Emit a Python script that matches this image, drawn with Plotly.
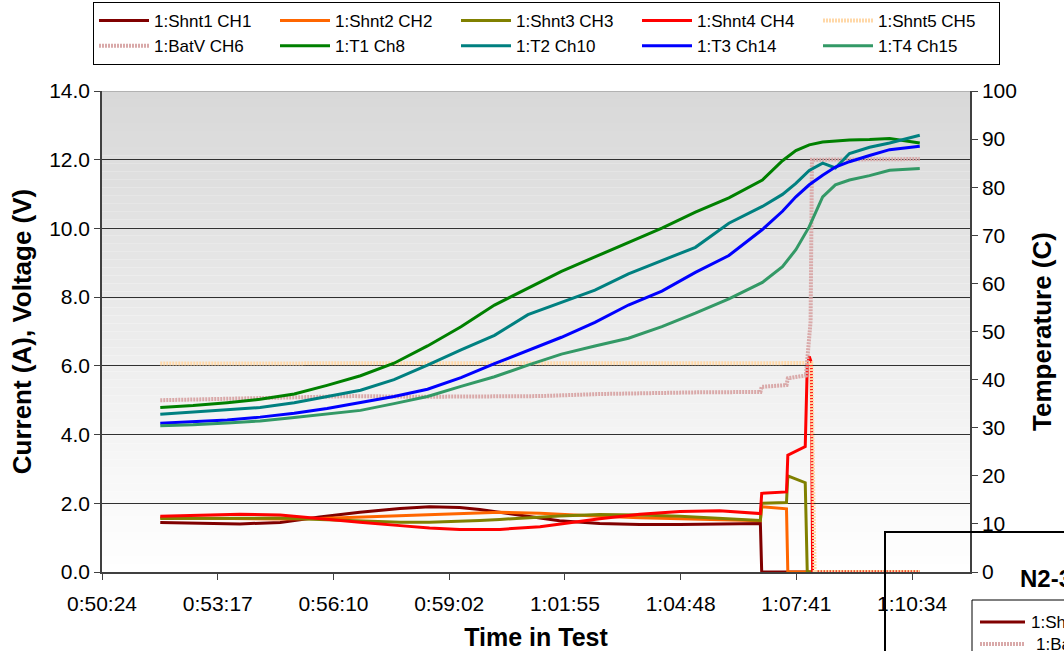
import plotly.graph_objects as go

# x axis: seconds of test clock, labelled h:mm:ss
TICK_SECONDS = [3024, 3196.8, 3369.6, 3542.4, 3715.2, 3888, 4060.8, 4233.6]
TICK_LABELS = ["0:50:24", "0:53:17", "0:56:10", "0:59:02", "1:01:55", "1:04:48", "1:07:41", "1:10:34"]

# shunt currents (A), common part before the faults
CUR_T = [3111, 3170, 3230, 3290, 3349, 3409, 3469, 3513, 3558, 3588, 3618, 3678, 3707, 3767, 3827, 3887, 3946, 3976, 4007]
SHNT1 = [1.44, 1.41, 1.40, 1.44, 1.60, 1.74, 1.85, 1.90, 1.88, 1.82, 1.74, 1.57, 1.49, 1.41, 1.38, 1.38, 1.40, 1.40, 1.41]
SHNT2 = [1.58, 1.57, 1.55, 1.54, 1.56, 1.60, 1.65, 1.69, 1.72, 1.73, 1.74, 1.71, 1.68, 1.62, 1.58, 1.55, 1.52, 1.50, 1.49]
SHNT3 = [1.56, 1.56, 1.57, 1.57, 1.53, 1.49, 1.45, 1.45, 1.47, 1.50, 1.53, 1.60, 1.63, 1.67, 1.66, 1.62, 1.57, 1.54, 1.50]
SHNT4 = [1.62, 1.65, 1.68, 1.66, 1.55, 1.45, 1.35, 1.28, 1.24, 1.23, 1.24, 1.32, 1.40, 1.55, 1.68, 1.76, 1.78, 1.75, 1.70]

# what happens after the first shunt opens
SHNT1_END_T = [4009, 4245]
SHNT1_END = [0, 0]
SHNT2_END_T = [4009, 4046, 4048, 4245]
SHNT2_END = [1.90, 1.84, 0, 0]
SHNT3_END_T = [4009, 4046, 4048, 4074, 4077, 4245]
SHNT3_END = [2.00, 2.02, 2.80, 2.60, 0, 0]
SHNT4_END_T = [4009, 4046, 4048, 4074, 4077, 4080, 4083, 4085, 4245]
SHNT4_END = [2.29, 2.33, 3.40, 3.65, 6.00, 6.27, 6.10, 0, 0]

SHNT5_T = [3111, 3400, 3700, 3950, 4010, 4083, 4088, 4245]
SHNT5 = [6.07, 6.08, 6.07, 6.09, 6.10, 6.08, 0, 0]

BATV_T = [3111, 3170, 3270, 3399, 3499, 3618, 3678, 3767, 3857, 3916, 4007, 4009, 4046, 4048, 4075, 4082, 4084, 4245]
BATV = [5.00, 5.03, 5.08, 5.12, 5.10, 5.10, 5.12, 5.18, 5.22, 5.23, 5.24, 5.39, 5.44, 5.64, 5.72, 7.30, 12.00, 12.02]

# temperatures (C)
TEMP_T = [3111, 3160, 3211, 3260, 3311, 3360, 3410, 3460, 3510, 3560, 3610, 3660, 3710, 3760,
          3810, 3860, 3910, 3960, 4010, 4040, 4060, 4080, 4100, 4119, 4140, 4170, 4200, 4245]
T1 = [34.2, 34.6, 35.2, 35.9, 37.0, 38.8, 40.8, 43.4, 47.0, 51.0, 55.5, 59.0, 62.5, 65.5,
      68.5, 71.5, 74.8, 77.8, 81.5, 85.5, 87.6, 88.8, 89.4, 89.6, 89.8, 89.9, 90.1, 89.2]
T2 = [32.8, 33.3, 33.8, 34.2, 35.2, 36.5, 37.8, 40.0, 43.0, 46.2, 49.2, 53.5, 56.0, 58.6,
      62.0, 64.8, 67.5, 72.5, 76.0, 78.5, 80.8, 83.5, 85.0, 84.0, 87.0, 88.3, 89.2, 90.8]
T3 = [30.9, 31.2, 31.6, 32.2, 33.0, 34.0, 35.2, 36.5, 38.0, 40.4, 43.3, 46.1, 48.8, 51.9,
      55.5, 58.4, 62.3, 65.8, 71.2, 75.0, 78.0, 80.5, 82.5, 84.2, 85.3, 86.6, 87.8, 88.5]
T4 = [30.4, 30.6, 31.0, 31.4, 32.1, 32.8, 33.6, 35.0, 36.5, 38.6, 40.6, 43.0, 45.3, 47.0,
      48.6, 51.0, 53.8, 56.8, 60.2, 63.5, 67.0, 71.8, 78.0, 80.5, 81.5, 82.4, 83.5, 83.9]

FONT = "Liberation Sans, Arial, sans-serif"
AXIS_COL = "#404040"

fig = go.Figure()


def add_line(name, t, v, color, axis="y", dash="solid", width=3):
    fig.add_trace(go.Scatter(
        x=t, y=v, name=name, mode="lines", yaxis=axis,
        line=dict(color=color, width=width, dash=dash),
    ))


add_line("1:Shnt1 CH1", CUR_T + SHNT1_END_T, SHNT1 + SHNT1_END, "#800000")
add_line("1:Shnt2 CH2", CUR_T + SHNT2_END_T, SHNT2 + SHNT2_END, "#FF6600")
add_line("1:Shnt3 CH3", CUR_T + SHNT3_END_T, SHNT3 + SHNT3_END, "#808000")
add_line("1:Shnt4 CH4", CUR_T + SHNT4_END_T, SHNT4 + SHNT4_END, "#FF0000")
add_line("1:Shnt5 CH5", SHNT5_T, SHNT5, "#FFD8A8", dash="2px,1px", width=4)
add_line("1:BatV CH6", BATV_T, BATV, "#D9A9A9", dash="2px,1px", width=4)
add_line("1:T1 Ch8", TEMP_T, T1, "#008000", axis="y2")
add_line("1:T2 Ch10", TEMP_T, T2, "#008080", axis="y2")
add_line("1:T3 Ch14", TEMP_T, T3, "#0000FF", axis="y2")
add_line("1:T4 Ch15", TEMP_T, T4, "#339966", axis="y2")

# grey-to-white gradient behind the plot
shapes = []
n_bands = 60
for i in range(n_bands):
    g = round(216 + 39 * (i + 0.5) / n_bands)
    shapes.append(dict(
        type="rect", xref="x domain", yref="y", x0=0, x1=1,
        y0=14 - (i + 1) * 14 / n_bands, y1=14 - i * 14 / n_bands,
        fillcolor=f"rgb({g},{g},{g})", line=dict(width=0), layer="below",
    ))
shapes.append(dict(type="line", xref="x domain", yref="y", x0=0, x1=1, y0=14, y1=14,
                   line=dict(color="#8c8c8c", width=1)))

# frame of the next chart on the sheet, peeking in at the bottom right
def px(x):
    return (x - 102) / 868


def py(y):
    return (572 - y) / 481


shapes.append(dict(type="path", xref="paper", yref="paper",
                   path=f"M {px(885)},{py(720)} L {px(885)},{py(532)} L {px(1120)},{py(532)}",
                   line=dict(color="black", width=2)))
shapes.append(dict(type="path", xref="paper", yref="paper",
                   path=f"M {px(972)},{py(720)} L {px(972)},{py(600)} L {px(1120)},{py(600)}",
                   line=dict(color="black", width=1)))
shapes.append(dict(type="line", xref="paper", yref="paper", x0=px(980), x1=px(1025),
                   y0=py(622), y1=py(622), line=dict(color="#800000", width=3)))
shapes.append(dict(type="line", xref="paper", yref="paper", x0=px(980), x1=px(1025),
                   y0=py(644), y1=py(644), line=dict(color="#D9A9A9", width=4, dash="2px,1px")))

annotations = [
    dict(text="<b>N2-3</b>", xref="paper", yref="paper", x=px(1018), y=py(578),
         xanchor="left", yanchor="middle", showarrow=False, font=dict(size=24)),
    dict(text="1:Shnt1 CH1", xref="paper", yref="paper", x=px(1029), y=py(622),
         xanchor="left", yanchor="middle", showarrow=False, font=dict(size=17)),
    dict(text="1:BatV CH6", xref="paper", yref="paper", x=px(1034), y=py(644),
         xanchor="left", yanchor="middle", showarrow=False, font=dict(size=17)),
]

fig.update_layout(
    width=1064, height=651,
    margin=dict(l=102, r=94, t=91, b=79, autoexpand=False),
    paper_bgcolor="white", plot_bgcolor="white",
    font=dict(family=FONT, size=21, color="black"),
    showlegend=True,
    legend=dict(
        orientation="h", x=px(93), xanchor="left", y=py(2), yanchor="top",
        bordercolor="black", borderwidth=1, bgcolor="white",
        font=dict(size=17), entrywidth=116, entrywidthmode="pixels", itemwidth=50,
    ),
    xaxis=dict(
        range=[3024, 4320], tickvals=TICK_SECONDS, ticktext=TICK_LABELS,
        ticks="outside", ticklen=6, tickcolor=AXIS_COL, ticklabelstandoff=6,
        showline=True, linecolor=AXIS_COL, linewidth=1.5,
        showgrid=False, zeroline=False, automargin=False,
        title=dict(text="Time in Test", font=dict(size=25, weight="bold"), standoff=16),
    ),
    yaxis=dict(
        range=[0, 14], dtick=2, tickformat=".1f",
        ticks="outside", ticklen=6, tickcolor=AXIS_COL,
        showline=True, linecolor=AXIS_COL, linewidth=1.5,
        showgrid=True, gridcolor="#303030", gridwidth=1, zeroline=False, automargin=False,
        title=dict(text="Current (A), Voltage (V)", font=dict(size=26, weight="bold"), standoff=10),
    ),
    yaxis2=dict(
        range=[0, 100], dtick=10, overlaying="y", side="right",
        ticks="outside", ticklen=6, tickcolor=AXIS_COL,
        showline=True, linecolor=AXIS_COL, linewidth=1.5,
        showgrid=False, zeroline=False, automargin=False,
        title=dict(text="Temperature (C)", font=dict(size=26, weight="bold"), standoff=17),
    ),
    shapes=shapes,
    annotations=annotations,
)

# page body has a default margin; drop it so the figure sits at the window corner
fig.write_html("out.html", config={"displayModeBar": False},
               post_script="document.body.style.margin='0';")
